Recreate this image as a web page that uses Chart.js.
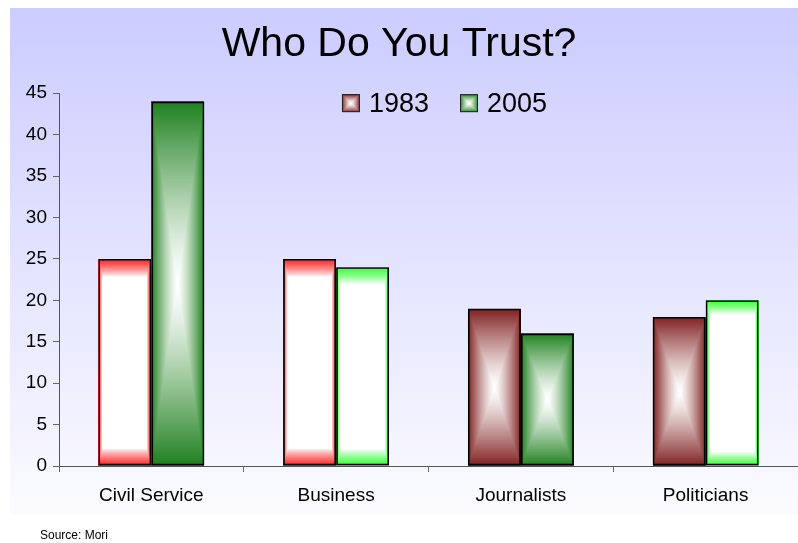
<!DOCTYPE html>
<html>
<head>
<meta charset="utf-8">
<script src="https://cdn.jsdelivr.net/npm/chart.js@4/dist/chart.umd.min.js"></script>
<style>
html, body { margin: 0; padding: 0; background: #fff; }
canvas { display: block; }
</style>
</head>
<body>
<canvas id="chart" width="798" height="543"></canvas>
<script>
const categories = ["Civil Service", "Business", "Journalists", "Politicians"];
const seriesLabels = ["1983", "2005"];
const values1983 = [25, 25, 19, 18];
const values2005 = [44, 24, 16, 20];
const yMin = 0;
const yMax = 45;
const yStep = 5;

// fill look of each bar in the original (bright edge or dark shaded)
const look1983 = ["light", "light", "dark", "dark"];
const look2005 = ["dark", "light", "dark", "light"];
const red = { dark: [128, 32, 32], light: [255, 32, 32] };
const green = { dark: [30, 128, 30], light: [48, 255, 48] };

const font = "'Liberation Sans', Arial, sans-serif";

// rectangular "from centre" gradient, white in the middle
function makeFill(w, h, rgb, kind) {
    let c = document.createElement("canvas");
    c.width = Math.max(w, 1);
    c.height = Math.max(h, 1);
    let g = c.getContext("2d");
    let img = g.createImageData(c.width, c.height);
    for (let y = 0; y < c.height; y++) {
        for (let x = 0; x < c.width; x++) {
            let dx = Math.abs(x + 0.5 - c.width / 2) / (c.width / 2);
            let dy = Math.abs(y + 0.5 - c.height / 2) / (c.height / 2);
            let t = Math.max(dx, dy);
            let s;
            if (kind === "light") {
                s = Math.pow(Math.min(Math.max((t - 0.83) / 0.17, 0), 1), 0.8);
            } else {
                s = Math.pow(t, 1.3);
            }
            let k = (y * c.width + x) * 4;
            img.data[k] = 255 + (rgb[0] - 255) * s;
            img.data[k + 1] = 255 + (rgb[1] - 255) * s;
            img.data[k + 2] = 255 + (rgb[2] - 255) * s;
            img.data[k + 3] = 255;
        }
    }
    g.putImageData(img, 0, 0);
    return c;
}

const backdrop = {
    id: "backdrop",
    beforeDraw(chart) {
        let ctx = chart.ctx;
        ctx.save();
        ctx.fillStyle = "#ffffff";
        ctx.fillRect(0, 0, chart.width, chart.height);
        let grad = ctx.createLinearGradient(0, 8, 0, 514);
        grad.addColorStop(0, "#ccccff");
        grad.addColorStop(1, "#fbfbff");
        ctx.fillStyle = grad;
        ctx.fillRect(10, 8, chart.width - 10, 506);
        ctx.restore();
    },
    afterDraw(chart) {
        let ctx = chart.ctx;
        ctx.save();
        ctx.fillStyle = "#000";
        ctx.font = "12px " + font;
        ctx.textBaseline = "middle";
        ctx.fillText("Source: Mori", 40, 536);
        ctx.restore();
    }
};

const barFill = {
    id: "barFill",
    beforeDatasetsDraw(chart) {
        let ctx = chart.ctx;
        chart.data.datasets.forEach((ds, di) => {
            let meta = chart.getDatasetMeta(di);
            meta.data.forEach((bar, i) => {
                let p = bar.getProps(["x", "y", "base", "width"], true);
                let left = Math.round(p.x - p.width / 2);
                let right = Math.round(p.x + p.width / 2);
                let top = Math.round(Math.min(p.y, p.base));
                let bottom = Math.round(Math.max(p.y, p.base));
                let rgb = ds.colors[ds.looks[i]];
                ctx.drawImage(makeFill(right - left, bottom - top, rgb, ds.looks[i]), left, top);
            });
        });
    }
};

const innerLegend = {
    id: "innerLegend",
    afterDatasetsDraw(chart) {
        let ctx = chart.ctx;
        ctx.save();
        ctx.font = "27px " + font;
        ctx.textBaseline = "middle";
        let box = 18, gap = 9, spacing = 31;
        let widths = chart.data.datasets.map(ds => box + gap + ctx.measureText(ds.label).width);
        let total = widths.reduce((a, b) => a + b, 0) + spacing * (widths.length - 1);
        let cx = (chart.chartArea.left + chart.chartArea.right) / 2 + 16;
        let x = cx - total / 2;
        let y = chart.chartArea.top + 10;
        chart.data.datasets.forEach((ds, i) => {
            ctx.drawImage(makeFill(box, box, ds.colors.dark, "dark"), x, y - box / 2);
            ctx.strokeStyle = "#222";
            ctx.lineWidth = 1;
            ctx.strokeRect(x + 0.5, y - box / 2 + 0.5, box - 1, box - 1);
            ctx.fillStyle = "#000";
            ctx.fillText(ds.label, x + box + gap, y + 1);
            x += widths[i] + spacing;
        });
        ctx.restore();
    }
};

let ctx = document.getElementById("chart").getContext("2d");

new Chart(ctx, {
    type: "bar",
    data: {
        labels: categories,
        datasets: [
            {
                label: seriesLabels[0],
                data: values1983,
                looks: look1983,
                colors: red,
                backgroundColor: "rgba(0,0,0,0)",
                borderColor: "#000",
                borderWidth: 1.7,
                borderSkipped: false
            },
            {
                label: seriesLabels[1],
                data: values2005,
                looks: look2005,
                colors: green,
                backgroundColor: "rgba(0,0,0,0)",
                borderColor: "#000",
                borderWidth: 1.7,
                borderSkipped: false
            }
        ]
    },
    options: {
        responsive: false,
        animation: false,
        categoryPercentage: 0.574,
        barPercentage: 1,
        layout: { padding: { left: 0, right: 0, top: 0, bottom: 31 } },
        plugins: {
            legend: { display: false },
            tooltip: { enabled: false },
            title: {
                display: true,
                text: "Who Do You Trust?",
                color: "#000",
                font: { family: font, size: 41, weight: "normal" },
                padding: { top: 20, bottom: 24 }
            }
        },
        scales: {
            x: {
                grid: { display: true, drawOnChartArea: false, tickLength: 6, color: "#666", offset: true },
                border: { display: true, color: "#555", width: 1 },
                ticks: { color: "#000", font: { family: font, size: 19 }, padding: 12 },
                afterFit(scale) { scale.height = 46; }
            },
            y: {
                min: yMin,
                max: yMax,
                grid: { drawOnChartArea: false, tickLength: 6, color: "#666" },
                border: { display: true, color: "#555", width: 1 },
                ticks: { stepSize: yStep, color: "#000", font: { family: font, size: 19 }, padding: 6 },
                afterFit(scale) { scale.width = 59; }
            }
        }
    },
    plugins: [backdrop, barFill, innerLegend]
});
</script>
</body>
</html>
